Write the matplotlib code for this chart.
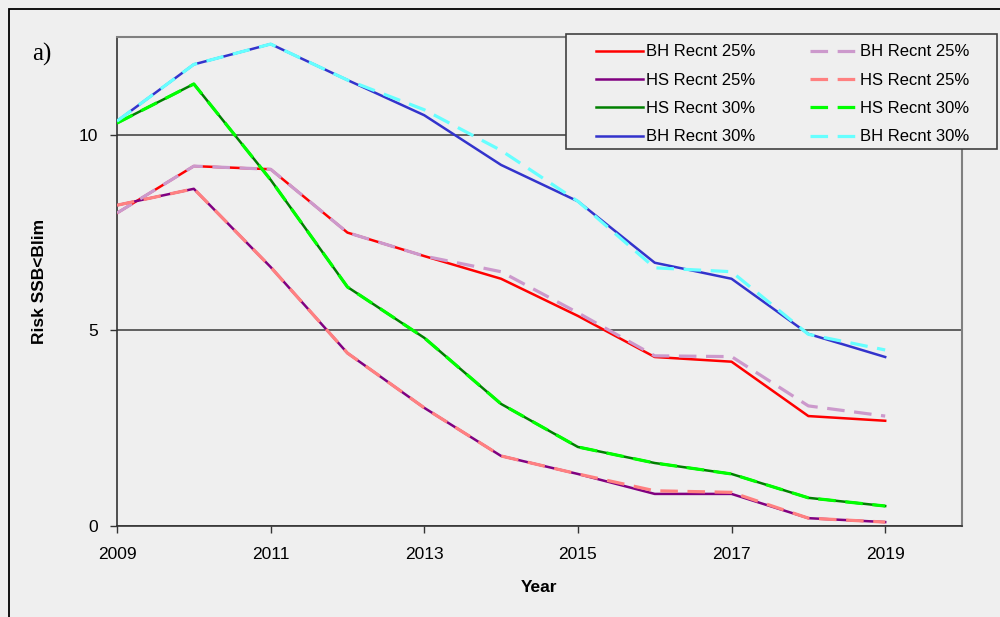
import matplotlib
matplotlib.use('Agg')
import matplotlib.pyplot as plt
from matplotlib.patches import Rectangle

# Years and risk values
years = [2009, 2010, 2011, 2012, 2013, 2014, 2015, 2016, 2017, 2018, 2019]

bh25_solid = [8.0, 9.2, 9.12, 7.5, 6.9, 6.32, 5.37, 4.32, 4.2, 2.81, 2.69]
hs25_solid = [8.2, 8.62, 6.62, 4.42, 3.02, 1.79, 1.33, 0.82, 0.82, 0.2, 0.1]
hs30_solid = [10.3, 11.3, 8.85, 6.11, 4.81, 3.12, 2.02, 1.61, 1.33, 0.72, 0.51]
bh30_solid = [10.35, 11.8, 12.32, 11.4, 10.5, 9.23, 8.3, 6.73, 6.32, 4.91, 4.32]

bh25_dashed = [8.0, 9.2, 9.12, 7.5, 6.9, 6.5, 5.45, 4.35, 4.33, 3.07, 2.81]
hs25_dashed = [8.2, 8.62, 6.62, 4.42, 3.02, 1.79, 1.33, 0.9, 0.86, 0.2, 0.1]
hs30_dashed = [10.3, 11.3, 8.85, 6.11, 4.81, 3.12, 2.02, 1.61, 1.33, 0.72, 0.51]
bh30_dashed = [10.35, 11.8, 12.32, 11.4, 10.64, 9.6, 8.3, 6.6, 6.5, 4.9, 4.5]

labels = ['BH Recnt 25%', 'HS Recnt 25%', 'HS Recnt 30%', 'BH Recnt 30%']
solid_series = [bh25_solid, hs25_solid, hs30_solid, bh30_solid]
dashed_series = [bh25_dashed, hs25_dashed, hs30_dashed, bh30_dashed]
solid_colors = ['#ff0000', '#800080', '#008000', '#3333cc']
dashed_colors = ['#cc99cc', '#ff8080', '#00ff00', '#66ffff']

xticks = [2009, 2011, 2013, 2015, 2017, 2019]
yticks = [0, 5, 10]

bg = '#efefef'
plt.rcParams['font.family'] = ['Liberation Sans', 'DejaVu Sans']

fig = plt.figure(figsize=(10, 6.17), dpi=100, facecolor=bg)
ax = fig.add_axes([0.117, 0.1475, 0.845, 0.7925])
ax.set_facecolor(bg)

for vals, col, lab in zip(solid_series, solid_colors, labels):
    ax.plot(years, vals, color=col, lw=1.8, label=lab, zorder=3)
for vals, col, lab in zip(dashed_series, dashed_colors, labels):
    ax.plot(years, vals, color=col, lw=2.3, linestyle=(0, (5.5, 3)), label=lab, zorder=4)

ax.set_xlim(2009, 2020)
ax.set_ylim(0, 12.5)
ax.set_xticks(xticks)
ax.set_yticks(yticks)
ax.tick_params(axis='x', direction='out', length=5, width=1, color='#333333',
               labelsize=12.5, pad=10)
ax.tick_params(axis='y', direction='out', length=5, width=1, color='#333333',
               labelsize=12.5, pad=9)

ax.yaxis.grid(True, color='#555555', lw=1.3)
ax.set_axisbelow(True)
for side in ['left', 'bottom']:
    ax.spines[side].set_color('#333333')
    ax.spines[side].set_linewidth(1.2)
for side in ['top', 'right']:
    ax.spines[side].set_color('#808080')
    ax.spines[side].set_linewidth(1.5)

ax.set_xlabel('Year', fontsize=12.5, fontweight='bold')
ax.xaxis.set_label_coords(0.5, -0.11)
ax.set_ylabel('Risk SSB<Blim', fontsize=12.5, fontweight='bold')
ax.yaxis.set_label_coords(-0.083, 0.5)

# legend without its own frame, the box is drawn separately
leg = ax.legend(ncol=2, loc='upper left', bbox_to_anchor=(0.567, 0.675, 0.442, 0.31),
                mode='expand', fontsize=12, frameon=False,
                handlelength=2.8, handletextpad=0.2, labelspacing=0.8,
                borderpad=0, borderaxespad=0, columnspacing=1.0)
leg.set_zorder(6)
ax.add_patch(Rectangle((0.566, 1 - 149 / 617), 0.431, 115 / 617, transform=fig.transFigure,
                       facecolor=bg, edgecolor='#404040', lw=1.2, zorder=5, clip_on=False))

fig.text(0.032, 0.9125, 'a)', fontsize=18, family='Liberation Serif', ha='left', va='center')

# outer frame, only left and top edges fall inside the image
fig.add_artist(Rectangle((0.009, -0.1), 1.5, 1.0854, transform=fig.transFigure,
                         fill=False, edgecolor='black', lw=1.3, clip_on=False))

fig.savefig('out.png', dpi=100, facecolor=bg)
